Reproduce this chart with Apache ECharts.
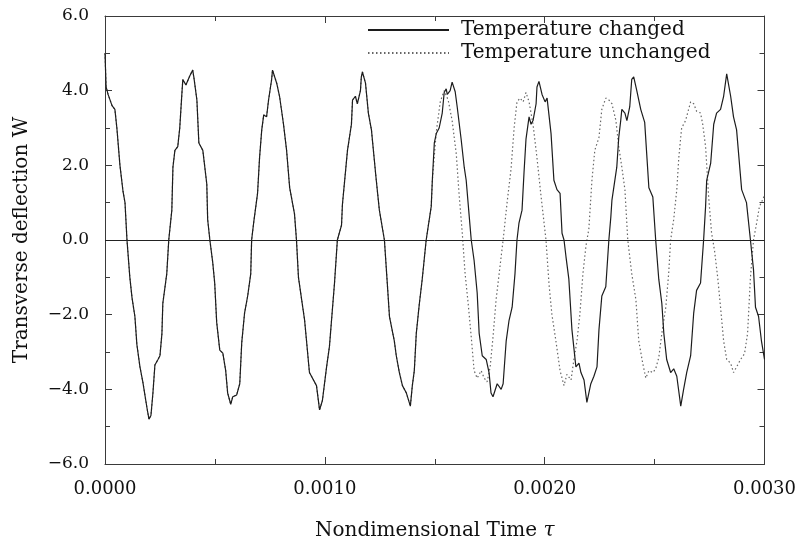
<!DOCTYPE html>
<html>
<head>
<meta charset="utf-8">
<script src="https://cdn.jsdelivr.net/npm/echarts@6/dist/echarts.min.js"></script>
<style>
html,body{margin:0;padding:0;background:#fff;}
#chart{width:799px;height:546px;}
</style>
</head>
<body>
<div id="chart"></div>
<script>
// Early part: both curves coincide
const tShared = [0, 0.000005, 0.000014, 0.000032, 0.000045, 0.000054, 0.000068, 0.000082, 0.000091, 0.000100,
  0.000113, 0.000123, 0.000136, 0.000145, 0.000159, 0.000172, 0.000191, 0.000200, 0.000209, 0.000218,
  0.000227, 0.000241, 0.000250, 0.000259, 0.000263, 0.000281, 0.000290, 0.000304, 0.000309, 0.000318,
  0.000331, 0.000340, 0.000349, 0.000354, 0.000368, 0.000377, 0.000386, 0.000399, 0.000404, 0.000418,
  0.000427, 0.000445, 0.000463, 0.000467, 0.000477, 0.000490, 0.000499, 0.000508, 0.000522, 0.000536,
  0.000549, 0.000558, 0.000572, 0.000581, 0.000599, 0.000613, 0.000622, 0.000635, 0.000649, 0.000663,
  0.000667, 0.000676, 0.000694, 0.000703, 0.000713, 0.000722, 0.000735, 0.000744, 0.000758, 0.000762,
  0.000781, 0.000794, 0.000812, 0.000826, 0.000840, 0.000862, 0.000871, 0.000880, 0.000908, 0.000930,
  0.000962, 0.000976, 0.000989, 0.001008, 0.001021, 0.001044, 0.001057, 0.001076, 0.001080, 0.001103,
  0.001121, 0.001126, 0.001139, 0.001148, 0.001162, 0.001166, 0.001171, 0.001185, 0.001198, 0.001212,
  0.001225, 0.001234, 0.001248, 0.001271, 0.001284, 0.001294, 0.001316, 0.001325, 0.001339, 0.001353,
  0.001371, 0.001389, 0.001398, 0.001407, 0.001416, 0.001430, 0.001443, 0.001461, 0.001484, 0.001489];
const wShared = [5.0, 4.1, 3.9, 3.6, 3.5, 3.0, 2.0, 1.3, 1.0, 0.0,
  -1.0, -1.55, -2.05, -2.8, -3.4, -3.8, -4.5, -4.8, -4.7, -4.1,
  -3.35, -3.2, -3.1, -2.5, -1.7, -0.9, 0.0, 0.8, 1.95, 2.4,
  2.5, 3.0, 3.85, 4.3, 4.15, 4.1, 4.4, 4.55, 4.37, 3.75,
  2.6, 2.4, 1.5, 0.55, 0.0, -0.6, -1.15, -2.2, -2.95, -3.03,
  -3.5, -4.1, -4.4, -4.2, -4.15, -3.85, -2.75, -1.95, -1.5, -0.9,
  0.0, 0.45, 1.25, 2.2, 2.95, 3.35, 3.3, 3.75, 4.3, 4.55,
  4.2, 3.85, 3.1, 2.4, 1.4, 0.7, 0.0, -1.0, -2.15, -3.55,
  -3.9, -4.55, -4.3, -3.4, -2.85, -1.15, 0.0, 0.4, 0.95, 2.4,
  3.1, 3.75, 3.85, 3.65, 4.0, 4.37, 4.5, 4.2, 3.4, 2.95,
  2.15, 1.6, 0.8, 0.0, -1.15, -2.05, -2.7, -3.1, -3.55, -3.9,
  -4.1, -4.45, -3.9, -3.5, -2.5, -1.7, -1.05, 0.0, 0.9, 1.6];

// Temperature changed (solid), after the curves separate
const tChanged = [0.001498, 0.001507, 0.001520, 0.001534, 0.001543, 0.001552, 0.001557, 0.001570, 0.001579, 0.001593,
  0.001602, 0.001620, 0.001634, 0.001643, 0.001657, 0.001666, 0.001679, 0.001693, 0.001702, 0.001716,
  0.001734, 0.001747, 0.001756, 0.001765, 0.001784, 0.001802, 0.001811, 0.001825, 0.001838, 0.001852,
  0.001865, 0.001874, 0.001883, 0.001897, 0.001906, 0.001915, 0.001929, 0.001938, 0.001947, 0.001961,
  0.001965, 0.001974, 0.001988, 0.002002, 0.002011, 0.002029, 0.002042, 0.002056, 0.002070, 0.002079,
  0.002088, 0.002097, 0.002110, 0.002124, 0.002142, 0.002156, 0.002165, 0.002179, 0.002192, 0.002210,
  0.002224, 0.002238, 0.002247, 0.002260, 0.002278, 0.002292, 0.002301, 0.002306, 0.002328, 0.002337,
  0.002346, 0.002351, 0.002365, 0.002374, 0.002387, 0.002396, 0.002405, 0.002419, 0.002437, 0.002455,
  0.002474, 0.002492, 0.002505, 0.002519, 0.002533, 0.002542, 0.002555, 0.002573, 0.002587, 0.002601,
  0.002619, 0.002632, 0.002646, 0.002664, 0.002678, 0.002691, 0.002709, 0.002723, 0.002732, 0.002737,
  0.002755, 0.002769, 0.002782, 0.002800, 0.002814, 0.002828, 0.002846, 0.002859, 0.002873, 0.002896,
  0.002918, 0.002936, 0.002950, 0.002959, 0.002973, 0.002986, 0.003000];
const wChanged = [2.6, 2.85, 3.0, 3.4, 3.95, 4.05, 3.9, 4.0, 4.23, 3.97,
  3.57, 2.7, 1.95, 1.6, 0.62, 0.0, -0.55, -1.42, -2.5, -3.1,
  -3.2, -3.55, -4.1, -4.2, -3.85, -4.0, -3.85, -2.7, -2.15, -1.8,
  -0.9, 0.0, 0.45, 0.8, 1.8, 2.7, 3.3, 3.1, 3.2, 3.65,
  4.1, 4.25, 3.9, 3.7, 3.8, 2.85, 1.6, 1.35, 1.25, 0.18,
  0.0, -0.45, -1.05, -2.4, -3.4, -3.3, -3.55, -3.75, -4.35, -3.85,
  -3.65, -3.4, -2.4, -1.5, -1.25, 0.0, 0.62, 1.07, 1.95, 2.75,
  3.2, 3.5, 3.4, 3.2, 3.57, 4.3, 4.37, 4.0, 3.5, 3.15,
  1.4, 1.15, 0.0, -1.05, -1.7, -2.5, -3.2, -3.55, -3.45, -3.65,
  -4.45, -4.0, -3.55, -3.1, -1.95, -1.35, -1.15, 0.0, 0.9, 1.6,
  2.05, 3.1, 3.4, 3.5, 3.85, 4.45, 3.85, 3.3, 2.95, 1.35,
  1.0, 0.0, -0.8, -1.8, -2.05, -2.7, -3.2];

// Temperature unchanged (dotted), after the curves separate
const tUnchanged = [0.001507, 0.001525, 0.001543, 0.001561, 0.001579, 0.001598, 0.001611, 0.001625, 0.001638, 0.001652,
  0.001666, 0.001679, 0.001693, 0.001711, 0.001725, 0.001738, 0.001752, 0.001765, 0.001779, 0.001793,
  0.001811, 0.001829, 0.001847, 0.001861, 0.001874, 0.001888, 0.001902, 0.001915, 0.001929, 0.001947,
  0.001965, 0.001983, 0.002006, 0.002020, 0.002033, 0.002051, 0.002070, 0.002088, 0.002101, 0.002120,
  0.002133, 0.002147, 0.002160, 0.002174, 0.002188, 0.002201, 0.002215, 0.002228, 0.002247, 0.002260,
  0.002278, 0.002292, 0.002306, 0.002324, 0.002337, 0.002351, 0.002365, 0.002378, 0.002396, 0.002415,
  0.002428, 0.002446, 0.002460, 0.002474, 0.002492, 0.002505, 0.002519, 0.002533, 0.002551, 0.002564,
  0.002573, 0.002587, 0.002601, 0.002610, 0.002623, 0.002641, 0.002664, 0.002678, 0.002691, 0.002709,
  0.002719, 0.002732, 0.002746, 0.002759, 0.002773, 0.002787, 0.002800, 0.002814, 0.002828, 0.002846,
  0.002859, 0.002873, 0.002891, 0.002909, 0.002923, 0.002936, 0.002950, 0.002964, 0.002977, 0.002991,
  0.003000];
const wUnchanged = [2.9, 3.7, 4.0, 3.75, 3.2, 2.3, 1.2, 0.2, -0.9, -1.7,
  -2.6, -3.5, -3.7, -3.5, -3.7, -3.8, -3.4, -2.6, -1.6, -0.9,
  0.0, 1.0, 1.9, 3.0, 3.7, 3.8, 3.7, 3.95, 3.7, 3.1,
  2.2, 1.2, 0.0, -1.2, -2.0, -2.7, -3.5, -3.9, -3.6, -3.75,
  -3.2, -2.7, -2.0, -0.9, -0.15, 0.3, 1.6, 2.4, 2.75, 3.5,
  3.8, 3.75, 3.65, 3.2, 2.5, 1.95, 1.35, 0.0, -0.9, -1.6,
  -2.7, -3.3, -3.7, -3.5, -3.55, -3.45, -3.15, -2.5, -1.8, -0.9,
  0.0, 0.55, 1.35, 2.2, 3.0, 3.2, 3.7, 3.65, 3.45, 3.4,
  3.1, 2.5, 1.15, 0.2, -0.3, -1.0, -1.8, -2.7, -3.2, -3.3,
  -3.55, -3.4, -3.2, -3.05, -2.5, -1.0, 0.0, 0.45, 0.9, 1.07,
  1.2];

const xTicks = [0, 0.001, 0.002, 0.003];
const yTicks = [-6, -4, -2, 0, 2, 4, 6];

function pairs(ts, ws) { return ts.map((t, i) => [t, ws[i]]); }
const changedData = pairs(tShared, wShared).concat(pairs(tChanged, wChanged));
const unchangedData = pairs(tShared, wShared).concat(pairs(tUnchanged, wUnchanged));

const FONT = 'DejaVu Serif';
const axisCol = '#3a3a3a';

const chart = echarts.init(document.getElementById('chart'), null, {renderer: 'canvas'});
const baseX = {
  type: 'value', min: xTicks[0], max: xTicks[xTicks.length - 1], interval: 0.001,
  axisLine: {show: true, onZero: false, lineStyle: {color: axisCol, width: 1}},
  axisTick: {show: true, inside: true, length: 7, lineStyle: {color: axisCol}},
  minorTick: {show: true, splitNumber: 2, length: 5, lineStyle: {color: axisCol}},
  splitLine: {show: false}
};
const baseY = {
  type: 'value', min: yTicks[0], max: yTicks[yTicks.length - 1], interval: 2,
  axisLine: {show: true, onZero: false, lineStyle: {color: axisCol, width: 1}},
  axisTick: {show: true, inside: true, length: 7, lineStyle: {color: axisCol}},
  minorTick: {show: true, splitNumber: 2, length: 5, lineStyle: {color: axisCol}},
  splitLine: {show: false}
};

chart.setOption({
  animation: false,
  backgroundColor: '#fff',
  grid: {left: 105, right: 33, top: 16, bottom: 82, containLabel: false},
  legend: {
    data: ['Temperature changed', 'Temperature unchanged'],
    orient: 'vertical', left: 362, top: 15,
    itemWidth: 81, itemHeight: 14, itemGap: 3,
    itemStyle: {opacity: 0},
    textStyle: {fontFamily: FONT, fontSize: 20, color: '#111', lineHeight: 20, padding: [0, 0, 0, 7]}
  },
  xAxis: [
    Object.assign({}, baseX, {
      position: 'bottom',
      axisLabel: {show: true, margin: 16, fontFamily: FONT, fontSize: 18, color: '#111',
        formatter: v => v.toFixed(4)},
      name: 'Nondimensional Time {t|τ}',
      nameLocation: 'middle', nameGap: 57,
      nameTextStyle: {fontFamily: FONT, fontSize: 20, color: '#111',
        rich: {t: {fontFamily: FONT, fontSize: 20, fontStyle: 'italic', color: '#111'}}}
    }),
    Object.assign({}, baseX, {position: 'top', axisLabel: {show: false}})
  ],
  yAxis: [
    Object.assign({}, baseY, {
      position: 'left',
      axisLabel: {show: true, margin: 16, fontFamily: FONT, fontSize: 17, color: '#111',
        formatter: v => v.toFixed(1).replace('-', '\u2212')},
      name: 'Transverse deflection W',
      nameLocation: 'middle', nameGap: 73,
      nameTextStyle: {fontFamily: FONT, fontSize: 20, color: '#111'}
    }),
    Object.assign({}, baseY, {position: 'right', axisLabel: {show: false}})
  ],
  series: [
    {
      name: 'Temperature unchanged', type: 'line', data: unchangedData,
      xAxisIndex: 0, yAxisIndex: 0,
      symbol: 'none', showSymbol: false,
      lineStyle: {color: '#666', width: 1.2, type: [1.5, 2.5]},
      itemStyle: {color: '#666'},
      z: 2
    },
    {
      name: 'Temperature changed', type: 'line', data: changedData,
      xAxisIndex: 0, yAxisIndex: 0,
      symbol: 'none', showSymbol: false,
      lineStyle: {color: '#1c1c1c', width: 1.2},
      itemStyle: {color: '#1c1c1c'},
      z: 3,
      markLine: {
        silent: true, symbol: ['none', 'none'],
        label: {show: false},
        lineStyle: {color: '#222', width: 1, type: 'solid'},
        data: [{yAxis: 0}]
      }
    }
  ]
});
</script>
</body>
</html>
